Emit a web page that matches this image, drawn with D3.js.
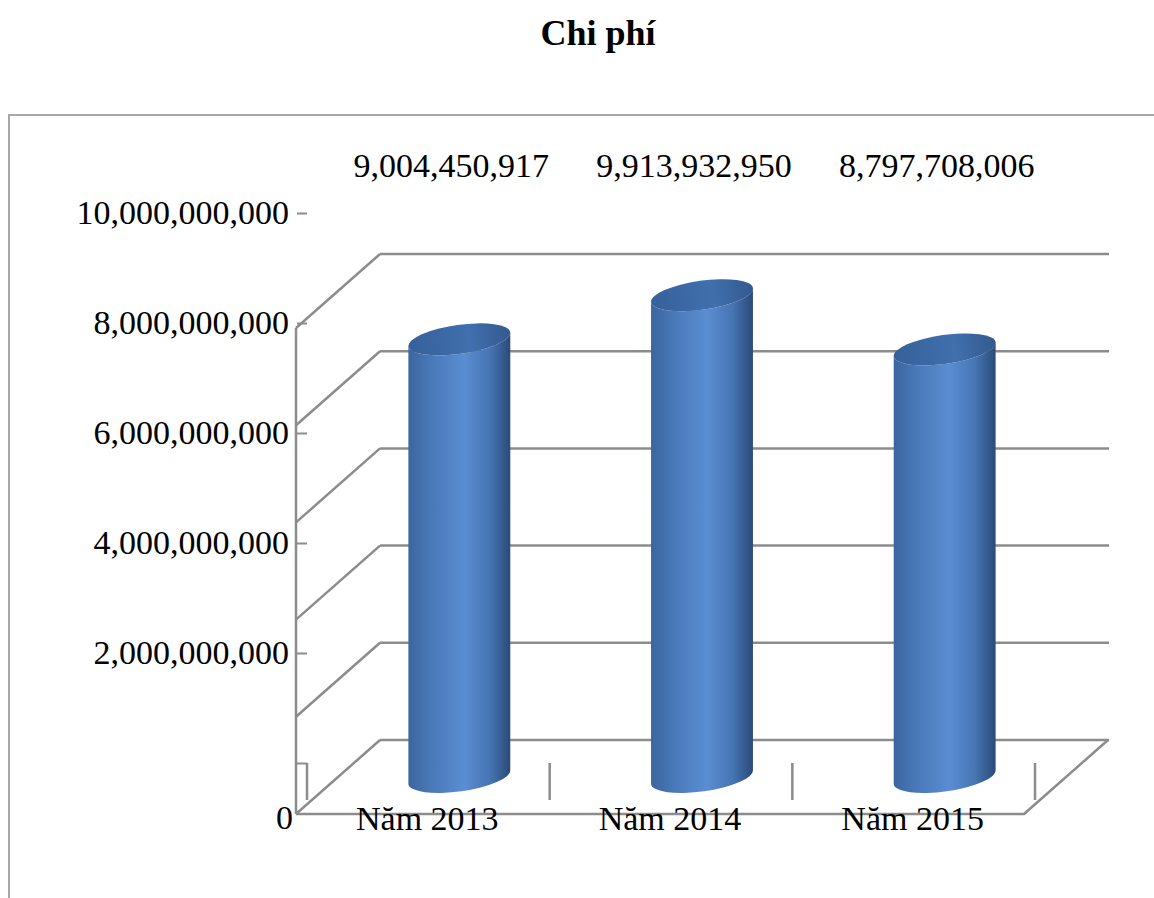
<!DOCTYPE html>
<html>
<head>
<meta charset="utf-8">
<script src="https://cdn.jsdelivr.net/npm/d3@7"></script>
<style>
  body { margin: 0; background: #fff; }
  text { font-family: "Liberation Serif", "Times New Roman", serif; fill: #000; }
</style>
</head>
<body>
<div id="chart"></div>
<script>
const title = "Chi phí";
const categories = ["Năm 2013", "Năm 2014", "Năm 2015"];
const values = [9004450917, 9913932950, 8797708006];
const gridValues = [0, 2e9, 4e9, 6e9, 8e9, 10e9];

const W = 1154, H = 898;
const depth = { dx: 84, dy: -74 };
const gridColor = "#8c8c8c";

const svg = d3.select("#chart").append("svg")
  .attr("width", W).attr("height", H);

// gradients for the cylinders
const defs = svg.append("defs");
const bodyGrad = defs.append("linearGradient").attr("id", "cylBody");
[["0%", "#3b659f"], ["20%", "#4877b6"], ["55%", "#5a8dd2"], ["80%", "#4675b3"], ["100%", "#2b4a78"]]
  .forEach(([o, c]) => bodyGrad.append("stop").attr("offset", o).attr("stop-color", c));
const topGrad = defs.append("linearGradient").attr("id", "cylTop");
[["0%", "#36609a"], ["60%", "#4070ad"], ["100%", "#34598f"]]
  .forEach(([o, c]) => topGrad.append("stop").attr("offset", o).attr("stop-color", c));

// outer frame
svg.append("rect")
  .attr("x", 9).attr("y", 115).attr("width", W).attr("height", H)
  .attr("fill", "none").attr("stroke", "#a8a8a8").attr("stroke-width", 2);

// title
svg.append("text")
  .attr("x", 598).attr("y", 45)
  .attr("text-anchor", "middle")
  .style("font-size", "36px").style("font-weight", "bold")
  .text(title);

// scales
const x = d3.scaleBand().domain(categories).range([296, 1024]);
const yFront = d3.scaleLinear().domain([0, 10e9]).range([814, 328]);
const yMid = (v) => yFront(v) + depth.dy / 2;
const yLabel = d3.scaleLinear().domain([0, 10e9]).range([763, 213]);

const g = svg.append("g")
  .attr("fill", "none").attr("stroke", gridColor)
  .attr("stroke-width", 2.5).attr("stroke-linejoin", "round");

const x0 = x.range()[0], x1 = x.range()[1];

// back wall gridlines + left wall diagonals
gridValues.forEach((v) => {
  const yb = yFront(v) + depth.dy;
  g.append("line")
    .attr("x1", x0 + depth.dx).attr("y1", yb)
    .attr("x2", x1 + depth.dx + 1).attr("y2", yb);
  g.append("line")
    .attr("x1", x0).attr("y1", yFront(v))
    .attr("x2", x0 + depth.dx).attr("y2", yb);
});

// front left axis line
g.append("line")
  .attr("x1", x0).attr("y1", yFront(10e9))
  .attr("x2", x0).attr("y2", yFront(0));

// floor front edge and right diagonal
g.append("path")
  .attr("d", `M${x0},${yFront(0)} L${x1},${yFront(0)} L${x1 + depth.dx},${yFront(0) + depth.dy}`);

// category ticks
const bounds = categories.map((c) => x(c)).concat([x1]);
g.selectAll(".ctick").data(bounds).enter().append("line")
  .attr("x1", (d) => d + 11).attr("x2", (d) => d + 11)
  .attr("y1", yLabel(0)).attr("y2", yLabel(0) + 37);

// value axis labels
const axis = svg.append("g")
  .attr("transform", `translate(${x0 + 11},0)`)
  .call(d3.axisLeft(yLabel)
    .tickValues(gridValues)
    .tickFormat((d) => (d === 0 ? "" : d3.format(",")(d)))
    .tickSize(10).tickPadding(8));
axis.select(".domain").remove();
axis.selectAll(".tick line").attr("stroke", gridColor).attr("stroke-width", 2);
axis.selectAll(".tick text")
  .style("font-size", "34px")
  .style("font-family", '"Liberation Serif", serif')
  .attr("fill", "#000");

svg.append("text")
  .attr("x", x0 - 3).attr("y", yFront(0))
  .attr("dy", "0.45em")
  .attr("text-anchor", "end")
  .style("font-size", "34px")
  .text("0");

// cylinders
const bw = x.bandwidth() * 0.424;
const rx = bw / 2, ry = 14.5, tilt = -8;
const rad = (tilt * Math.PI) / 180;
const ex = rx * Math.cos(rad), ey = rx * Math.sin(rad);
const cxOf = (i) => x(categories[i]) + x.bandwidth() / 2 + depth.dx / 2;

const bars = svg.selectAll(".bar").data(values).enter().append("g");

bars.append("path")
  .attr("fill", "url(#cylBody)")
  .attr("d", (d, i) => {
    const cx = cxOf(i);
    const yt = yMid(d), yb = yMid(0);
    return `M${cx - ex},${yt - ey} L${cx - ex},${yb - ey} ` +
      `A${rx},${ry} ${tilt} 0 0 ${cx + ex},${yb + ey} ` +
      `L${cx + ex},${yt + ey} A${rx},${ry} ${tilt} 0 1 ${cx - ex},${yt - ey} Z`;
  });

bars.append("ellipse")
  .attr("fill", "url(#cylTop)")
  .attr("rx", rx).attr("ry", ry)
  .attr("transform", (d, i) => `translate(${cxOf(i)},${yMid(d)}) rotate(${tilt})`);

// value labels
svg.selectAll(".vlabel").data(values).enter().append("text")
  .attr("x", (d, i) => cxOf(i) - 8)
  .attr("y", 177)
  .attr("text-anchor", "middle")
  .style("font-size", "34px")
  .text((d) => d3.format(",")(d));

// category labels
svg.selectAll(".clabel").data(categories).enter().append("text")
  .attr("x", (d) => x(d) + x.bandwidth() / 2 + 10)
  .attr("y", yFront(0) + 16)
  .attr("text-anchor", "middle")
  .style("font-size", "34px")
  .text((d) => d);
</script>
</body>
</html>
